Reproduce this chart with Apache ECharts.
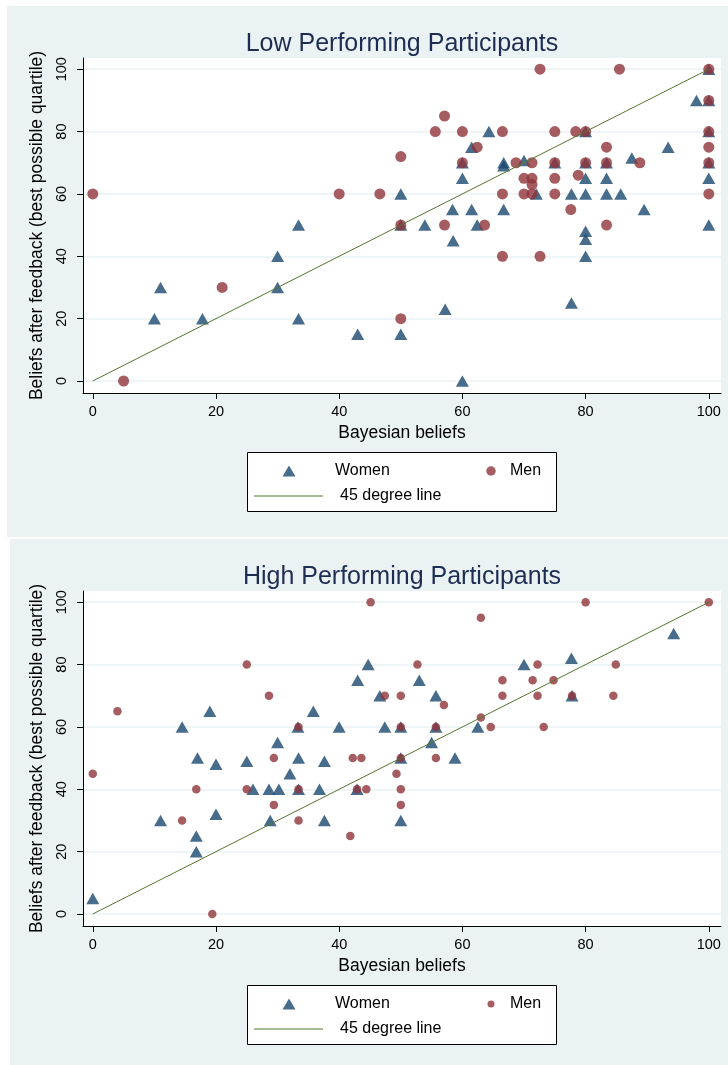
<!DOCTYPE html>
<html><head><meta charset="utf-8">
<script src="https://cdn.jsdelivr.net/npm/echarts@6.0.0/dist/echarts.min.js"></script>
<style>html,body{margin:0;padding:0;background:#fff}#c{width:728px;height:1065px}</style>
</head><body><div id="c"></div>
<script>
const tickValues = [0, 20, 40, 60, 80, 100];
const panelTitles = ['Low Performing Participants', 'High Performing Participants'];
const xTitle = 'Bayesian beliefs';
const yTitle = 'Beliefs after feedback (best possible quartile)';
const seriesNames = ['Women', 'Men', '45 degree line'];
const diagonal = [[0, 0], [100, 100]];

const lowWomen = [
  [10,20],[11,30],[17.8,20],[30,40],[30,30],[33.4,50],[33.4,20],[43,15],[50,60],[50,50],[50,15],
  [53.9,50],[57.2,23],[58.4,55],[58.5,45],[60,65],[60,70],[60,0],[61.5,75],[61.5,55],[62.4,50],
  [64.3,80],[66.7,70],[66.7,69],[66.7,55],[70,70.7],[72,60],[75,70],[77.7,60],[77.7,25],[80,80],
  [80,70],[80,65],[80,60],[80,48],[80,45.5],[80,40],[83.4,70],[83.4,65],[83.4,60],[85.7,60],
  [87.5,71.5],[89.5,55],[93.4,75],[98,90],[100,100],[100,90],[100,80],[100,70],[100,65],[100,50]
];
const lowMen = [
  [0,60],[5,0],[21,30],[40,60],[46.6,60],[50,72],[50,50],[50,20],[55.6,80],[57.1,85],[57.1,50],
  [60,80],[60,70],[62.4,75],[63.6,50],[66.5,80],[66.5,60],[66.5,40],[68.7,70],[70,65],[70,60],
  [71.3,70],[71.3,65],[71.3,63],[71.3,60],[72.6,100],[72.6,40],[75,80],[75,70],[75,65],[75,60],
  [77.6,55],[78.4,80],[78.8,66],[80,80],[80,70],[83.4,75],[83.4,70],[83.4,50],[85.5,100],[88.8,70],
  [100,100],[100,90],[100,80],[100,75],[100,70],[100,60]
];
const highWomen = [
  [0,5],[11,30],[14.5,60],[16.8,25],[16.8,20],[17,50],[19,65],[20,48],[20,32],[25,49],[26,40],
  [28.6,40],[28.8,30],[30.2,40],[30,55],[32,45],[33.3,60],[33.4,50],[33.4,40],[35.8,65],[36.8,40],
  [37.6,49],[37.6,30],[40,60],[42.9,40],[43,75],[44.7,80],[46.6,70],[47.4,60],[50,60],[50,50],
  [50,30],[53,75],[55.7,70],[55.7,60],[55,55],[58.8,50],[62.5,60],[70,80],[77.7,82],[77.8,70],[94.3,90]
];
const highMen = [
  [0,45],[4,65],[14.5,30],[16.8,40],[19.4,0],[25,80],[25,40],[28.6,70],[29.4,50],[29.4,35],
  [33.4,60],[33.4,40],[33.4,30],[41.8,25],[42.2,50],[43.6,50],[42.9,40],[44.4,40],[45.1,100],
  [47.4,70],[50,70],[50,60],[50,50],[49.3,45],[50,40],[50,35],[52.7,80],[55.7,60],[55.7,50],
  [57,67],[63,95],[63,63],[64.6,60],[66.5,75],[66.5,70],[72.2,80],[71.4,75],[72.2,70],[73.2,60],
  [74.8,75],[77.8,70],[80,100],[84.9,80],[84.5,70],[100,100]
];

const panels = [
  { women: lowWomen, men: lowMen, menSize: 11 },
  { women: highWomen, men: highMen, menSize: 8.5 }
];

const FONT = 'Liberation Sans, Arial, sans-serif';
const NAVY = '#1a476f', MAROON = '#90353b', GREEN = '#55752f', BG = '#eaf2f3';
const OFFSET = 533;

const grid = [], xAxis = [], yAxis = [], series = [], title = [], legend = [], graphic = [];
panels.forEach((p, i) => {
  const dy = i * OFFSET;
  grid.push({ left: 83, top: 58 + dy, width: 638, height: 335, show: false });
  title.push({
    text: panelTitles[i], left: 397, top: 27 + dy, textAlign: 'center',
    textStyle: { fontFamily: FONT, fontSize: 25, fontWeight: 'normal', color: '#1e2d53' }
  });
  xAxis.push({
    gridIndex: i, type: 'value', min: -1.59, max: 101.98,
    name: xTitle, nameLocation: 'middle', nameGap: 31,
    nameTextStyle: { fontFamily: FONT, fontSize: 17.5, color: '#000' },
    axisLine: { show: true, onZero: false, lineStyle: { color: '#000', width: 1 } },
    axisTick: { show: true, length: 6, customValues: tickValues, lineStyle: { color: '#000' } },
    axisLabel: { customValues: tickValues, margin: 11, fontFamily: FONT, fontSize: 14.5, color: '#000' },
    splitLine: { show: false }
  });
  yAxis.push({
    gridIndex: i, type: 'value', min: -3.85, max: 103.6,
    name: yTitle, nameLocation: 'middle', nameGap: 35,
    nameTextStyle: { fontFamily: FONT, fontSize: 17.5, color: '#000' },
    axisLine: { show: true, onZero: false, lineStyle: { color: '#000', width: 1 } },
    axisTick: { show: true, length: 6, customValues: tickValues, lineStyle: { color: '#000' } },
    axisLabel: { customValues: tickValues, rotate: 90, margin: 14, fontFamily: FONT, fontSize: 14.5, color: '#000' },
    splitLine: { show: true, lineStyle: { color: BG, width: 1.5 } }
  });
  series.push({
    type: 'scatter', name: seriesNames[0], xAxisIndex: i, yAxisIndex: i, data: p.women,
    symbol: 'triangle', symbolSize: [13, 11.5], itemStyle: { color: NAVY }
  });
  series.push({
    type: 'scatter', name: seriesNames[1], xAxisIndex: i, yAxisIndex: i, data: p.men,
    symbol: 'circle', symbolSize: p.menSize, itemStyle: { color: MAROON }
  });
  series.push({
    type: 'line', name: seriesNames[2], xAxisIndex: i, yAxisIndex: i, data: diagonal,
    symbol: 'none', itemStyle: { color: GREEN }, lineStyle: { color: GREEN, width: 1 }
  });
  const ts = { fontFamily: FONT, fontSize: 16, color: '#000' };
  const menIcon = p.menSize - 1.5;
  legend.push({ data: [{ name: seriesNames[0], icon: 'triangle' }], left: 282.5, top: 463 + dy, padding: 0,
    itemWidth: 13, itemHeight: 11, selectedMode: false,
    textStyle: Object.assign({ padding: [0, 0, 0, 34.5] }, ts) });
  legend.push({ data: [{ name: seriesNames[1], icon: 'circle' }], left: 491 - menIcon / 2, top: 463 + dy, padding: 0,
    itemWidth: 28, itemHeight: menIcon, selectedMode: false, textStyle: ts });
  legend.push({ data: [{ name: seriesNames[2], icon: 'rect', itemStyle: { color: GREEN } }], left: 254, top: 488 + dy, padding: 0,
    itemWidth: 69, itemHeight: 1.2, selectedMode: false,
    textStyle: Object.assign({ padding: [0, 0, 0, 12] }, ts) });
  graphic.push({ type: 'rect', z: -10, silent: true,
    shape: { x: i ? 10 : 7, y: i ? 539 : 6, width: 728, height: i ? 530 : 531 }, style: { fill: BG } });
  graphic.push({ type: 'rect', z: -9, silent: true,
    shape: { x: 83, y: 58 + dy, width: 638, height: 335 }, style: { fill: '#fff' } });
  graphic.push({ type: 'rect', z: -9, silent: true,
    shape: { x: 247.5, y: 452.5 + dy, width: 309, height: 59 }, style: { fill: '#fff', stroke: '#000', lineWidth: 1 } });
});

const chart = echarts.init(document.getElementById('c'), null, { renderer: 'canvas' });
chart.setOption({
  backgroundColor: '#fff', animation: false,
  title, grid, xAxis, yAxis, series, legend, graphic
});
</script></body></html>
